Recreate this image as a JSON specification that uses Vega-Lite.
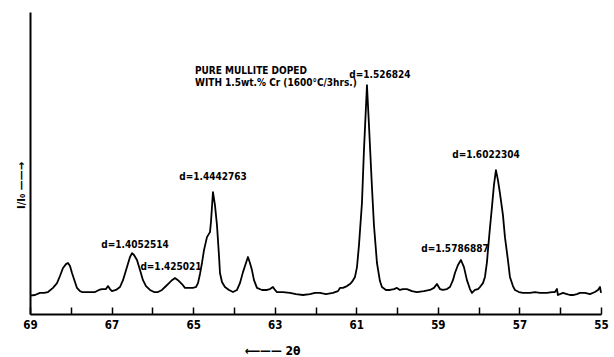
{
  "$schema": "https://vega.github.io/schema/vega-lite/v6.json",
  "width": 571,
  "height": 302,
  "autosize": {"type": "none"},
  "padding": {"left": 30, "top": 12, "right": 13, "bottom": 43},
  "background": "white",
  "config": {
    "view": {"stroke": null},
    "font": "DejaVu Sans Condensed, Liberation Sans Narrow, Roboto, DejaVu Sans",
    "text": {"font": "DejaVu Sans Condensed, Liberation Sans Narrow, Roboto, DejaVu Sans"}
  },
  "datasets": {
    "pattern": [
      {"two_theta": 69.000, "intensity": 8.0},
      {"two_theta": 68.877, "intensity": 8.3},
      {"two_theta": 68.755, "intensity": 9.2},
      {"two_theta": 68.657, "intensity": 9.2},
      {"two_theta": 68.559, "intensity": 9.6},
      {"two_theta": 68.436, "intensity": 11.4},
      {"two_theta": 68.338, "intensity": 13.5},
      {"two_theta": 68.265, "intensity": 16.6},
      {"two_theta": 68.191, "intensity": 20.1},
      {"two_theta": 68.117, "intensity": 21.8},
      {"two_theta": 68.068, "intensity": 22.3},
      {"two_theta": 68.019, "intensity": 21.0},
      {"two_theta": 67.970, "intensity": 17.9},
      {"two_theta": 67.897, "intensity": 14.0},
      {"two_theta": 67.848, "intensity": 11.4},
      {"two_theta": 67.774, "intensity": 10.0},
      {"two_theta": 67.725, "intensity": 9.6},
      {"two_theta": 67.578, "intensity": 9.6},
      {"two_theta": 67.406, "intensity": 9.6},
      {"two_theta": 67.308, "intensity": 10.5},
      {"two_theta": 67.235, "intensity": 10.9},
      {"two_theta": 67.137, "intensity": 10.9},
      {"two_theta": 67.088, "intensity": 12.2},
      {"two_theta": 67.039, "intensity": 10.9},
      {"two_theta": 66.990, "intensity": 10.0},
      {"two_theta": 66.892, "intensity": 10.5},
      {"two_theta": 66.794, "intensity": 11.8},
      {"two_theta": 66.720, "intensity": 14.8},
      {"two_theta": 66.622, "intensity": 20.5},
      {"two_theta": 66.548, "intensity": 24.9},
      {"two_theta": 66.499, "intensity": 26.6},
      {"two_theta": 66.450, "intensity": 25.8},
      {"two_theta": 66.377, "intensity": 23.6},
      {"two_theta": 66.303, "intensity": 19.2},
      {"two_theta": 66.230, "intensity": 14.8},
      {"two_theta": 66.156, "intensity": 12.2},
      {"two_theta": 66.058, "intensity": 10.5},
      {"two_theta": 65.960, "intensity": 9.6},
      {"two_theta": 65.862, "intensity": 9.6},
      {"two_theta": 65.764, "intensity": 10.5},
      {"two_theta": 65.690, "intensity": 11.8},
      {"two_theta": 65.592, "intensity": 13.5},
      {"two_theta": 65.519, "intensity": 14.8},
      {"two_theta": 65.445, "intensity": 15.7},
      {"two_theta": 65.372, "intensity": 14.8},
      {"two_theta": 65.274, "intensity": 13.1},
      {"two_theta": 65.200, "intensity": 11.4},
      {"two_theta": 65.102, "intensity": 11.4},
      {"two_theta": 65.004, "intensity": 11.4},
      {"two_theta": 64.930, "intensity": 11.8},
      {"two_theta": 64.881, "intensity": 13.5},
      {"two_theta": 64.832, "intensity": 17.5},
      {"two_theta": 64.783, "intensity": 22.3},
      {"two_theta": 64.734, "intensity": 27.9},
      {"two_theta": 64.661, "intensity": 33.6},
      {"two_theta": 64.587, "intensity": 35.8},
      {"two_theta": 64.563, "intensity": 40.2},
      {"two_theta": 64.514, "intensity": 53.3},
      {"two_theta": 64.465, "intensity": 47.6},
      {"two_theta": 64.416, "intensity": 38.9},
      {"two_theta": 64.367, "intensity": 25.8},
      {"two_theta": 64.342, "intensity": 17.9},
      {"two_theta": 64.293, "intensity": 14.0},
      {"two_theta": 64.220, "intensity": 11.8},
      {"two_theta": 64.121, "intensity": 10.5},
      {"two_theta": 64.023, "intensity": 9.6},
      {"two_theta": 63.925, "intensity": 10.5},
      {"two_theta": 63.852, "intensity": 13.5},
      {"two_theta": 63.778, "intensity": 18.3},
      {"two_theta": 63.729, "intensity": 21.0},
      {"two_theta": 63.656, "intensity": 24.9},
      {"two_theta": 63.607, "intensity": 22.3},
      {"two_theta": 63.558, "intensity": 19.2},
      {"two_theta": 63.508, "intensity": 14.8},
      {"two_theta": 63.435, "intensity": 11.4},
      {"two_theta": 63.312, "intensity": 10.5},
      {"two_theta": 63.190, "intensity": 10.5},
      {"two_theta": 63.116, "intensity": 10.9},
      {"two_theta": 63.043, "intensity": 11.8},
      {"two_theta": 62.994, "intensity": 10.5},
      {"two_theta": 62.945, "intensity": 9.6},
      {"two_theta": 62.798, "intensity": 9.6},
      {"two_theta": 62.626, "intensity": 9.2},
      {"two_theta": 62.479, "intensity": 8.7},
      {"two_theta": 62.307, "intensity": 8.3},
      {"two_theta": 62.136, "intensity": 8.7},
      {"two_theta": 62.013, "intensity": 9.2},
      {"two_theta": 61.891, "intensity": 9.2},
      {"two_theta": 61.743, "intensity": 8.7},
      {"two_theta": 61.572, "intensity": 9.2},
      {"two_theta": 61.449, "intensity": 10.0},
      {"two_theta": 61.400, "intensity": 11.4},
      {"two_theta": 61.327, "intensity": 11.4},
      {"two_theta": 61.228, "intensity": 12.2},
      {"two_theta": 61.155, "intensity": 13.1},
      {"two_theta": 61.106, "intensity": 14.0},
      {"two_theta": 61.032, "intensity": 16.2},
      {"two_theta": 60.983, "intensity": 20.5},
      {"two_theta": 60.934, "intensity": 30.1},
      {"two_theta": 60.861, "intensity": 48.5},
      {"two_theta": 60.812, "intensity": 71.6},
      {"two_theta": 60.738, "intensity": 100.0},
      {"two_theta": 60.689, "intensity": 82.5},
      {"two_theta": 60.616, "intensity": 55.5},
      {"two_theta": 60.567, "intensity": 38.9},
      {"two_theta": 60.493, "intensity": 22.3},
      {"two_theta": 60.420, "intensity": 14.4},
      {"two_theta": 60.371, "intensity": 11.8},
      {"two_theta": 60.273, "intensity": 10.5},
      {"two_theta": 60.174, "intensity": 10.5},
      {"two_theta": 60.076, "intensity": 10.9},
      {"two_theta": 60.003, "intensity": 11.4},
      {"two_theta": 59.929, "intensity": 10.5},
      {"two_theta": 59.856, "intensity": 10.9},
      {"two_theta": 59.758, "intensity": 10.9},
      {"two_theta": 59.635, "intensity": 10.0},
      {"two_theta": 59.512, "intensity": 9.6},
      {"two_theta": 59.341, "intensity": 10.0},
      {"two_theta": 59.194, "intensity": 10.5},
      {"two_theta": 59.096, "intensity": 11.4},
      {"two_theta": 59.022, "intensity": 13.1},
      {"two_theta": 58.949, "intensity": 10.9},
      {"two_theta": 58.875, "intensity": 10.5},
      {"two_theta": 58.777, "intensity": 10.9},
      {"two_theta": 58.703, "intensity": 11.8},
      {"two_theta": 58.630, "intensity": 14.8},
      {"two_theta": 58.581, "intensity": 17.9},
      {"two_theta": 58.507, "intensity": 21.4},
      {"two_theta": 58.434, "intensity": 23.6},
      {"two_theta": 58.360, "intensity": 20.5},
      {"two_theta": 58.287, "intensity": 14.8},
      {"two_theta": 58.213, "intensity": 10.9},
      {"two_theta": 58.164, "intensity": 9.2},
      {"two_theta": 58.091, "intensity": 10.5},
      {"two_theta": 58.017, "intensity": 10.9},
      {"two_theta": 57.968, "intensity": 11.8},
      {"two_theta": 57.894, "intensity": 13.5},
      {"two_theta": 57.845, "intensity": 16.2},
      {"two_theta": 57.796, "intensity": 22.7},
      {"two_theta": 57.772, "intensity": 27.9},
      {"two_theta": 57.723, "intensity": 37.6},
      {"two_theta": 57.674, "intensity": 46.7},
      {"two_theta": 57.625, "intensity": 56.3},
      {"two_theta": 57.576, "intensity": 62.9},
      {"two_theta": 57.527, "intensity": 58.5},
      {"two_theta": 57.478, "intensity": 52.8},
      {"two_theta": 57.404, "intensity": 43.2},
      {"two_theta": 57.355, "intensity": 33.6},
      {"two_theta": 57.282, "intensity": 23.6},
      {"two_theta": 57.233, "intensity": 16.2},
      {"two_theta": 57.159, "intensity": 12.2},
      {"two_theta": 57.110, "intensity": 10.5},
      {"two_theta": 57.012, "intensity": 9.6},
      {"two_theta": 56.914, "intensity": 9.2},
      {"two_theta": 56.742, "intensity": 9.2},
      {"two_theta": 56.620, "intensity": 9.6},
      {"two_theta": 56.497, "intensity": 9.2},
      {"two_theta": 56.325, "intensity": 9.2},
      {"two_theta": 56.203, "intensity": 9.6},
      {"two_theta": 56.129, "intensity": 9.6},
      {"two_theta": 56.080, "intensity": 10.9},
      {"two_theta": 56.056, "intensity": 8.3},
      {"two_theta": 55.933, "intensity": 9.2},
      {"two_theta": 55.835, "intensity": 8.7},
      {"two_theta": 55.762, "intensity": 8.3},
      {"two_theta": 55.688, "intensity": 8.3},
      {"two_theta": 55.590, "intensity": 8.7},
      {"two_theta": 55.517, "intensity": 9.2},
      {"two_theta": 55.394, "intensity": 9.2},
      {"two_theta": 55.271, "intensity": 8.7},
      {"two_theta": 55.149, "intensity": 9.6},
      {"two_theta": 55.075, "intensity": 10.5},
      {"two_theta": 55.025, "intensity": 11.8},
      {"two_theta": 55.000, "intensity": 9.2}
    ],
    "peaks": [
      {"two_theta": 66.426, "intensity": 30.1, "label": "d=1.4052514"},
      {"two_theta": 65.543, "intensity": 20.5, "label": "d=1.425021"},
      {"two_theta": 64.514, "intensity": 59.8, "label": "d=1.4442763"},
      {"two_theta": 60.420, "intensity": 104.4, "label": "d=1.526824"},
      {"two_theta": 58.581, "intensity": 28.4, "label": "d=1.5786887"},
      {"two_theta": 57.821, "intensity": 69.4, "label": "d=1.6022304"}
    ],
    "note": [
      {"two_theta": 64.955, "intensity": 106.1, "line": "PURE MULLITE DOPED"},
      {"two_theta": 64.955, "intensity": 100.9, "line": "WITH 1.5wt.% Cr (1600°C/3hrs.)"}
    ]
  },
  "layer": [
    {
      "data": {"name": "pattern"},
      "mark": {"type": "line", "color": "black", "strokeWidth": 1.8, "strokeJoin": "round"},
      "encoding": {
        "x": {
          "field": "two_theta",
          "type": "quantitative",
          "scale": {"domain": [55, 69], "reverse": true, "nice": false, "zero": false},
          "axis": {
            "title": "⟵—— 2θ",
            "titleFontSize": 12,
            "titleFontWeight": "bold",
            "titleColor": "black",
            "titleX": 242,
            "titleY": 36,
            "titleBaseline": "middle",
            "titleAnchor": null,
            "values": [55, 56, 57, 58, 59, 60, 61, 62, 63, 64, 65, 66, 67, 68, 69],
            "labelExpr": "datum.value % 2 == 1 ? datum.label : ''",
            "labelFontSize": 11.5,
            "labelFontWeight": "bold",
            "labelColor": "black",
            "labelFlush": false,
            "labelOverlap": false,
            "tickSize": -7,
            "tickWidth": 1.5,
            "tickColor": "black",
            "labelPadding": 12,
            "domainColor": "black",
            "domainWidth": 2,
            "grid": false
          }
        },
        "y": {
          "field": "intensity",
          "type": "quantitative",
          "scale": {"domain": [0, 132], "nice": false, "zero": true},
          "axis": {
            "title": "I/I₀ ——→",
            "titleFontSize": 11,
            "titleFontWeight": "bold",
            "titleColor": "black",
            "titleAngle": -90,
            "titleX": -9,
            "titleY": 173,
            "titleBaseline": "middle",
            "titleAlign": "center",
            "titleAnchor": null,
            "labels": false,
            "ticks": false,
            "grid": false,
            "domainColor": "black",
            "domainWidth": 2
          }
        }
      }
    },
    {
      "data": {"name": "peaks"},
      "mark": {"type": "text", "fontSize": 10, "fontWeight": "bold", "color": "black", "align": "center", "baseline": "middle"},
      "encoding": {
        "x": {"field": "two_theta", "type": "quantitative"},
        "y": {"field": "intensity", "type": "quantitative"},
        "text": {"field": "label"}
      }
    },
    {
      "data": {"name": "note"},
      "mark": {"type": "text", "fontSize": 10, "fontWeight": "bold", "color": "black", "align": "left", "baseline": "middle"},
      "encoding": {
        "x": {"field": "two_theta", "type": "quantitative"},
        "y": {"field": "intensity", "type": "quantitative"},
        "text": {"field": "line"}
      }
    }
  ]
}
